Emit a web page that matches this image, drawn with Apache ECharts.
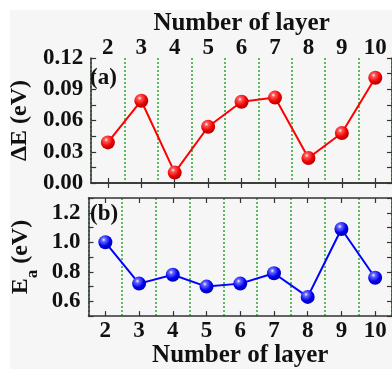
<!DOCTYPE html>
<html>
<head>
<meta charset="utf-8">
<script src="https://cdn.jsdelivr.net/npm/echarts@6/dist/echarts.min.js"></script>
<style>
html,body{margin:0;padding:0;background:#ffffff;}
#chart{width:392px;height:369px;}
</style>
</head>
<body>
<div id="chart"></div>
<script>
const categories = ['2','3','4','5','6','7','8','9','10'];
const deltaE = [0.039, 0.079, 0.010, 0.054, 0.078, 0.082, 0.024, 0.048, 0.101];
const ea = [1.00, 0.72, 0.78, 0.70, 0.72, 0.79, 0.63, 1.09, 0.76];
const xName = 'Number of layer';
const yNameTop = 'ΔE (eV)';

const FONT = '"Liberation Serif", "Times New Roman", serif';
const FRAME = '#333333';
const GREEN = '#2aa52a';

function ball(c1, c2, c3) {
  return {
    type: 'radial', x: 0.38, y: 0.32, r: 0.75,
    colorStops: [
      {offset: 0, color: '#ffffff'},
      {offset: 0.18, color: c1},
      {offset: 0.6, color: c2},
      {offset: 1, color: c3}
    ]
  };
}

const grids = [
  {left: 88.5, top: 58, width: 306, height: 125},
  {left: 88.5, top: 198, width: 306, height: 124}
];

function xAxisDef(gridIndex, position, showLabels, name, nameGap, showSplit, margin) {
  return {
    type: 'category', data: categories, gridIndex: gridIndex, position: position,
    boundaryGap: true,
    name: name, nameLocation: 'middle', nameGap: nameGap,
    nameTextStyle: {fontFamily: FONT, fontWeight: 'bold', fontSize: 25, color: '#111'},
    axisLine: {show: true, lineStyle: {color: FRAME, width: 1.5}},
    axisTick: {show: true, inside: true, alignWithLabel: true, length: 5, lineStyle: {color: FRAME, width: 1.2}},
    axisLabel: {show: showLabels, interval: 0, margin: margin, fontFamily: FONT, fontWeight: 'bold', fontSize: 23, color: '#111'},
    splitLine: {show: showSplit, interval: 0, lineStyle: {color: GREEN, type: [2, 2], width: 1.5}},
    z: 1
  };
}

function yAxisDef(gridIndex, position, min, max, interval, fmt, showLabels, name) {
  return {
    type: 'value', gridIndex: gridIndex, position: position, min: min, max: max, interval: interval,
    name: name, nameLocation: 'middle', nameGap: 54,
    nameTextStyle: {fontFamily: FONT, fontWeight: 'bold', fontSize: 24, color: '#111',
      rich: {
        b: {fontFamily: FONT, fontWeight: 'bold', fontSize: 24, color: '#111'},
        sub: {fontFamily: FONT, fontWeight: 'bold', fontSize: 17, color: '#111', verticalAlign: 'bottom', padding: [0,0,-8,0]}
      }},
    axisLine: {show: true, onZero: false, lineStyle: {color: FRAME, width: 1.5}},
    axisTick: {show: true, inside: true, length: 5, lineStyle: {color: FRAME, width: 1.2}},
    axisLabel: {show: showLabels, margin: 8, formatter: fmt, fontFamily: FONT, fontWeight: 'bold', fontSize: 23, color: '#111'},
    splitLine: {show: false},
    z: 5
  };
}

const fmtTop = function (v) {
  const k = Math.round(v / 0.015);
  return (k % 2 === 0) ? v.toFixed(2) : '';
};
const fmtBot = function (v) {
  const k = Math.round(v * 10);
  return (k % 2 === 0) ? v.toFixed(1) : '';
};

const chart = echarts.init(document.getElementById('chart'), null, {renderer: 'canvas'});
chart.setOption({
  animation: false,
  backgroundColor: '#ffffff',
  graphic: [
    {type: 'rect', z: -10, silent: true, shape: {x: 10, y: 10, width: 400, height: 400}, style: {fill: '#f6f6f6'}},
    {type: 'text', left: 90, top: 67, z: 50, style: {text: '(a)', fontFamily: FONT, fontWeight: 'bold', fontSize: 23, fill: '#111'}},
    {type: 'text', left: 90, top: 203, z: 50, style: {text: '(b)', fontFamily: FONT, fontWeight: 'bold', fontSize: 23, fill: '#111'}}
  ],
  grid: grids,
  xAxis: [
    xAxisDef(0, 'top', true, xName, 19, true, -2),
    xAxisDef(0, 'bottom', false, '', 0, false, 3),
    xAxisDef(1, 'top', false, '', 0, true, 3),
    xAxisDef(1, 'bottom', true, xName, 23, false, 3)
  ],
  yAxis: [
    yAxisDef(0, 'left', 0, 0.12, 0.015, fmtTop, true, yNameTop),
    yAxisDef(0, 'right', 0, 0.12, 0.015, fmtTop, false, ''),
    yAxisDef(1, 'left', 0.5, 1.3, 0.1, fmtBot, true, '{b|E}{sub|a}{b| (eV)}'),
    yAxisDef(1, 'right', 0.5, 1.3, 0.1, fmtBot, false, '')
  ],
  series: [
    {
      type: 'line', xAxisIndex: 0, yAxisIndex: 0, data: deltaE,
      symbol: 'circle', symbolSize: 14, z: 10,
      lineStyle: {color: '#ff0000', width: 2},
      itemStyle: {color: ball('#ff5a5a', '#f00000', '#a00000')}
    },
    {
      type: 'line', xAxisIndex: 3, yAxisIndex: 2, data: ea,
      symbol: 'circle', symbolSize: 14, z: 10,
      lineStyle: {color: '#0000ff', width: 2},
      itemStyle: {color: ball('#6a6aff', '#0000f0', '#0000a0')}
    }
  ]
});
</script>
</body>
</html>
